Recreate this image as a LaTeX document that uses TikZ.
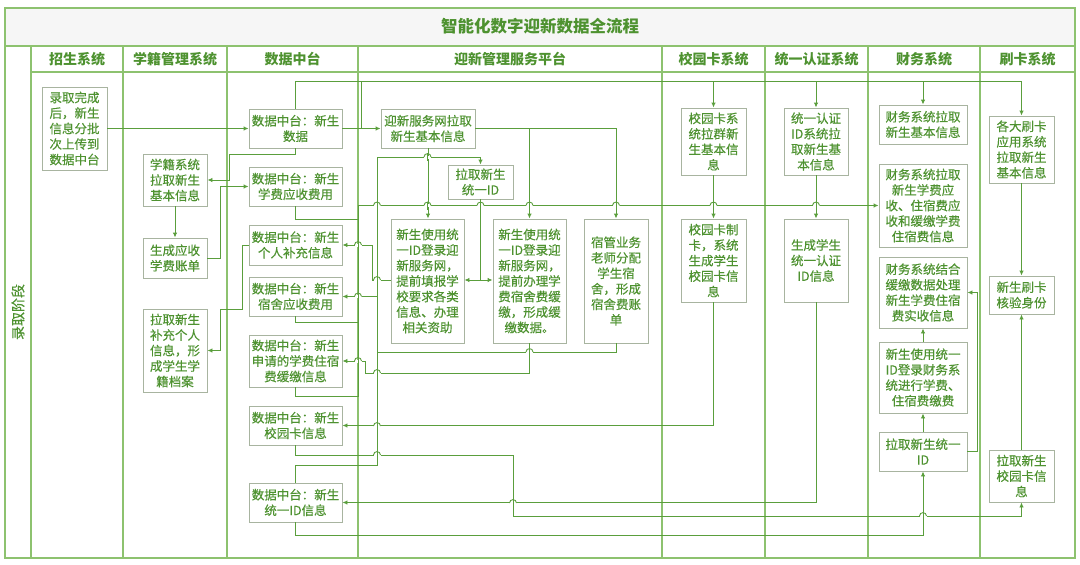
\documentclass[tikz,border=0pt]{standalone}
\usepackage{fontspec}
\setmainfont{Noto Sans CJK SC}
\newfontfamily\boxfont{Noto Sans CJK SC}[FakeBold=0.3]
\usetikzlibrary{arrows.meta}
\definecolor{frm}{HTML}{8DC26F}
\definecolor{cn}{HTML}{5A9E3C}
\definecolor{bxc}{HTML}{A8B4A0}
\definecolor{txt}{HTML}{4E9230}
\definecolor{ttl}{HTML}{F6F6F6}
\tikzset{
 bx/.style={draw=bxc, line width=0.9pt, fill=white, text=txt, align=center, inner sep=1pt, font=\boxfont\fontsize{12.5}{15.5}\selectfont},
 conn/.style={draw=cn, line width=0.9pt},
 arr/.style={conn, -{Latex[length=5pt,width=4.5pt]}},
 frame/.style={draw=frm, line width=1.2pt},
 hdr/.style={text=txt, font=\fontsize{14}{16}\selectfont\bfseries},
}
\newcommand\mkbox[6]{\node[bx, minimum width={(#4-#2)*1pt}, minimum height={(#5-#3)*1pt}] (#1) at ({(#2+#4)/2},{(#3+#5)/2}) {#6};}
\newcommand\hop[2]{%
 \fill[white] ({#1-3.5},{#2-1.5}) rectangle ({#1+3.5},{#2+1.5});
 \draw[conn] (#1,{#2-4}) -- (#1,{#2+4});
 \draw[conn] ({#1-3.5},#2) .. controls ({#1-3.5},{#2-4.5}) and ({#1+3.5},{#2-4.5}) .. ({#1+3.5},#2);}
\begin{document}
\begin{tikzpicture}[x=1pt,y=-1pt]
\useasboundingbox (0,0) rectangle (1080,565);
% frame
\fill[ttl] (5,8) rectangle (1075,46);
\draw[frame] (5,46) -- (1075,46);
\draw[frame] (31,72) -- (1075,72);
\foreach \x in {31,123,227,358,662,765,868,980} \draw[frame] (\x,46) -- (\x,558);
\draw[frame, line width=1.8pt] (5,8) rectangle (1075,558);
% titles
\node[text=txt, font=\fontsize{16.5}{18}\selectfont\bfseries] (title) at (540,26) {智能化数字迎新数据全流程};
\node[text=txt, font=\boxfont\fontsize{14}{16}\selectfont, rotate=90] (lane) at (18,312) {录取阶段};
\node[hdr] (h1) at (77,59) {招生系统};
\node[hdr] (h2) at (175,59) {学籍管理系统};
\node[hdr] (h3) at (292.5,59) {数据中台};
\node[hdr] (h4) at (510,59) {迎新管理服务平台};
\node[hdr] (h5) at (713.5,59) {校园卡系统};
\node[hdr] (h6) at (816.5,59) {统一认证系统};
\node[hdr] (h7) at (924,59) {财务系统};
\node[hdr] (h8) at (1027.5,59) {刷卡系统};
% boxes
\mkbox{A}{42}{87}{107}{170}{录取完成\\后，新生\\信息分批\\次上传到\\数据中台}
\mkbox{B}{143}{154}{207}{206}{学籍系统\\拉取新生\\基本信息}
\mkbox{C}{143}{238}{207}{278}{生成应收\\学费账单}
\mkbox{D}{143}{309}{207}{392}{拉取新生\\补充个人\\信息，形\\成学生学\\籍档案}
\mkbox{S1}{249}{109}{342}{148}{数据中台：新生\\数据}
\mkbox{S2}{249}{167}{342}{206}{数据中台：新生\\学费应收费用}
\mkbox{S3}{249}{225}{342}{265}{数据中台：新生\\个人补充信息}
\mkbox{S4}{249}{277}{342}{316}{数据中台：新生\\宿舍应收费用}
\mkbox{S5}{249}{335}{342}{387}{数据中台：新生\\申请的学费住宿\\费缓缴信息}
\mkbox{S6}{249}{406}{342}{445}{数据中台：新生\\校园卡信息}
\mkbox{S7}{249}{483}{342}{522}{数据中台：新生\\统一ID信息}
\mkbox{Y1}{381}{109}{475}{148}{迎新服务网拉取\\新生基本信息}
\mkbox{Y2}{448}{165}{513}{199}{拉取新生\\统一ID}
\mkbox{Y3}{391}{219}{464}{343}{新生使用统\\一ID登录迎\\新服务网，\\提前填报学\\校要求各类\\信息、办理\\相关资助}
\mkbox{Y4}{493}{219}{566}{343}{新生使用统\\一ID登录迎\\新服务网，\\提前办理学\\费宿舍费缓\\缴，形成缓\\缴数据。}
\mkbox{Y5}{584}{219}{648}{343}{宿管业务\\老师分配\\学生宿\\舍，形成\\宿舍费账\\单}
\mkbox{K1}{681}{108}{746}{175}{校园卡系\\统拉群新\\生基本信\\息}
\mkbox{K2}{681}{219}{746}{302}{校园卡制\\卡，系统\\生成学生\\校园卡信\\息}
\mkbox{T1}{784}{108}{848}{175}{统一认证\\ID系统拉\\取新生基\\本信息}
\mkbox{T2}{784}{219}{848}{302}{生成学生\\统一认证\\ID信息}
\mkbox{F1}{879}{105}{967}{144}{财务系统拉取\\新生基本信息}
\mkbox{F2}{879}{164}{967}{247}{财务系统拉取\\新生学费应\\收、住宿费应\\收和缓缴学费\\住宿费信息}
\mkbox{F3}{879}{257}{967}{328}{财务系统结合\\缓缴数据处理\\新生学费住宿\\费实收信息}
\mkbox{F4}{879}{342}{967}{413}{新生使用统一\\ID登录财务系\\统进行学费、\\住宿费缴费}
\mkbox{F5}{879}{432}{967}{471}{拉取新生统一\\ID}
\mkbox{P1}{989}{116}{1054}{183}{各大刷卡\\应用系统\\拉取新生\\基本信息}
\mkbox{P2}{989}{276}{1054}{314}{新生刷卡\\核验身份}
\mkbox{P3}{989}{450}{1054}{502}{拉取新生\\校园卡信\\息}
% connectors
\draw[arr] (A.east) -- (S1.west);
\draw[arr] (S1.north) |- (P1.north |- 0,81) -- (P1.north);
\draw[arr] (K1.north |- 0,81) -- (K1.north);
\draw[arr] (T1.north |- 0,81) -- (T1.north);
\draw[arr] (F1.north |- 0,81) -- (F1.north);
\draw[arr] (S1.east) -- (Y1.west);
\draw[conn] (361,81) -- (361,128.5);
\draw[arr] (S1.south) -- (S1.south |- 0,154) -- (229,154) -- (229,180) -- (B.east);
\draw[arr] (B.south) -- (C.north);
\draw[arr] (C.east) -- (220,258) |- (S2.west);
\draw[arr] (S2.south) |- (358,219) -- (358,205.5) -- (F2.west);
\draw[conn] (S4.south) |- (358,322) -- (358,219);
\draw[conn] (S5.south) |- (358,396) -- (358,322);
\draw[arr] (S3.west) -- (242,245) -- (242,309) -- (220,309) |- (D.east);
\draw[arr] (Y3.west |- 0,280) -- (372,280) |- (S3.east);
\draw[arr] (Y5.south) |- (377,352) |- (S4.east);
\draw[arr] (Y4.south) |- (365,373) |- (S5.east);
\draw[arr] (K2.south) |- (S6.east);
\draw[arr] (T2.south) |- (S7.east);
\draw[arr] (S6.south) |- (513,455) |- (P3.south |- 0,516) -- (P3.south);
\draw[arr] (S7.north) |- (377,465) |- (Y2.north |- 0,157) -- (Y2.north);
\draw[arr] (S7.south) |- (F5.south |- 0,535) -- (F5.south);
\draw[arr] (Y1.south) -- (Y1.south |- Y3.north);
\draw[arr] (Y1.east) -| (Y5.north);
\draw[arr] (Y4.north |- Y1.east) -- (Y4.north);
\draw[arr] (Y2.south) |- (Y3.east |- 0,280);
\draw[arr] (Y2.south |- 0,280) -- (Y4.west |- 0,280);
\draw[arr] (K1.south) -- (K2.north);
\draw[arr] (T1.south) -- (T2.north);
\draw[arr] (P1.south) -- (P2.north);
\draw[arr] (P3.north) -- (P2.south);
\draw[arr] (F4.north) -- (F3.south);
\draw[arr] (F5.north) -- (F4.south);
\draw[arr] (F5.east) -- (977,451.5) |- (F3.east);
% hops
\foreach \x in {377,427.5,480.5,529.5,616,713.5,816} {\hop{\x}{205.5}}
\hop{427.5}{157}
\hop{358}{245}
\hop{377}{280}
\hop{358}{296.5}
\hop{358}{361}
\hop{377}{373}
\hop{529.5}{352}
\hop{377}{426}
\hop{377}{455}
\hop{513}{503}
\hop{923}{516}
\end{tikzpicture}
\end{document}
